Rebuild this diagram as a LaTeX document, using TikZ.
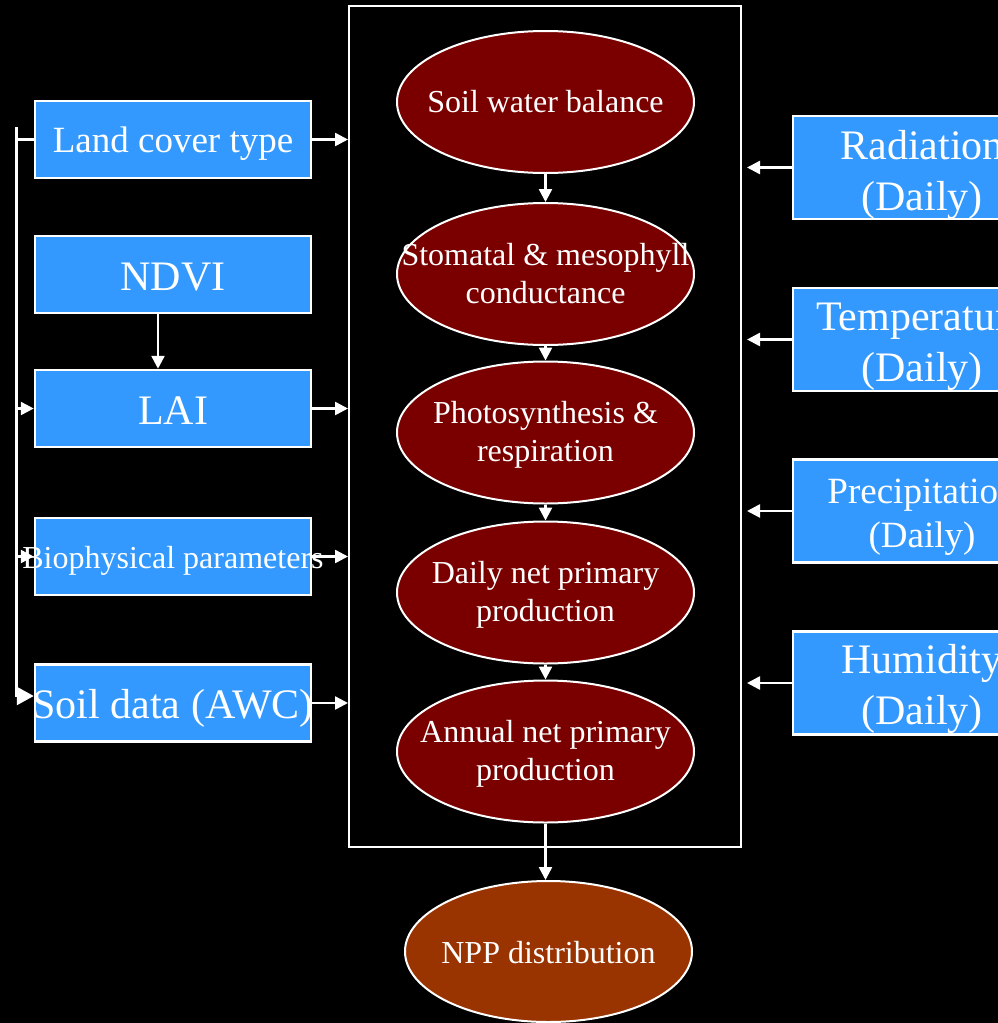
\documentclass[tikz,border=0pt]{standalone}
\usepackage{fontspec}
\setmainfont{Liberation Serif}
\usetikzlibrary{shapes.geometric,arrows.meta}

\definecolor{inblue}{RGB}{51,153,255}
\definecolor{procred}{RGB}{122,0,0}
\definecolor{outbrown}{RGB}{153,51,0}

% text of a node, first baseline #1 above the centre, may spill over the border
\newcommand{\nodetext}[2]{\makebox[0pt]{\raisebox{#1}[0pt][0pt]{\begin{tabular}[t]{@{}c@{}}#2\end{tabular}}}}

\begin{document}
\begin{tikzpicture}[x=1pt, y=-1pt,
    inbox/.style={rectangle, draw=white, line width=2.5pt, fill=inblue, text=white, inner sep=0pt, minimum width=276pt, minimum height=77pt},
    metbox/.style={rectangle, draw=white, line width=2.5pt, fill=inblue, text=white, inner sep=0pt, minimum width=258pt, minimum height=103pt},
    proc/.style={ellipse, draw=white, line width=2pt, fill=procred, text=white, inner sep=0pt, minimum width=297pt, minimum height=142pt, font=\fontsize{32}{38}\selectfont},
    bigfont/.style={font=\fontsize{42}{51}\selectfont},
    midfont/.style={font=\fontsize{37}{44}\selectfont},
    smallfont/.style={font=\fontsize{32}{38}\selectfont},
    link/.style={-{Triangle[length=13pt,width=13pt]}, draw=white, line width=2.5pt}]

    \useasboundingbox (0,0) rectangle (998,1023);
    \clip (0,0) rectangle (998,1023);
    \fill[black] (0,0) rectangle (998,1023);

    \node[draw=white, line width=2pt, inner sep=0pt, minimum width=392pt, minimum height=841pt] (frame) at (545,426.5) {};

    % inputs on the left
    \node[inbox, midfont] (land) at (173,139.5) {\nodetext{-12.5pt}{Land cover type}};
    \node[inbox, bigfont, yshift=-135pt] (ndvi) at (land) {\nodetext{-15.5pt}{NDVI}};
    \node[inbox, bigfont, yshift=-134pt] (lai) at (ndvi) {\nodetext{-15.5pt}{LAI}};
    \node[inbox, smallfont, yshift=-148pt] (bio) at (lai) {\nodetext{-11.5pt}{Biophysical parameters}};
    \node[inbox, bigfont, yshift=-146.5pt] (soil) at (bio) {\nodetext{-15pt}{Soil data (AWC)}};

    % model steps
    \node[proc] (water) at (545.5,102) {\nodetext{-10pt}{Soil water balance}};
    \node[proc, yshift=-172pt] (stoma) at (water) {\nodetext{9pt}{Stomatal \& mesophyll\\conductance}};
    \node[proc, yshift=-158.5pt] (photo) at (stoma) {\nodetext{9pt}{Photosynthesis \&\\respiration}};
    \node[proc, yshift=-160pt] (daily) at (photo) {\nodetext{9pt}{Daily net primary\\production}};
    \node[proc, yshift=-159pt] (annual) at (daily) {\nodetext{9pt}{Annual net primary\\production}};
    \node[proc, fill=outbrown, minimum width=287pt, minimum height=141pt] (npp) at (548.5,951.5) {\nodetext{-11.5pt}{NPP distribution}};

    % weather on the right
    \node[metbox, bigfont] (rad) at (922,167.5) {\nodetext{8.5pt}{Radiation\\(Daily)}};
    \node[metbox, bigfont, yshift=-172pt] (temp) at (rad) {\nodetext{9.5pt}{Temperature\\(Daily)}};
    \node[metbox, midfont, yshift=-171.5pt] (prec) at (temp) {\nodetext{8pt}{Precipitation\\(Daily)}};
    \node[metbox, bigfont, yshift=-172pt] (hum) at (prec) {\nodetext{10pt}{Humidity\\(Daily)}};

    \coordinate (bus) at (16.5,127);
    \draw[white, line width=2.5pt] (land.west) -- (land.west -| bus);
    \draw[-{Triangle[length=17pt,width=18pt]}, white, line width=2.5pt] (bus) |- ([yshift=7pt]soil.west);
    \draw[link] (lai.west -| bus) -- (lai.west);
    \draw[link] (bio.west -| bus) -- (bio.west);
    \draw[link] ([xshift=-15pt]ndvi.south) -- ([xshift=-15pt]lai.north);

    \draw[link] (land.east) -- (land.east -| frame.west);
    \draw[link] (lai.east) -- (lai.east -| frame.west);
    \draw[link] (bio.east) -- (bio.east -| frame.west);
    \draw[link] (soil.east) -- (soil.east -| frame.west);

    \draw[link, shorten >=5pt] (rad.west) -- (rad.west -| frame.east);
    \draw[link, shorten >=5pt] (temp.west) -- (temp.west -| frame.east);
    \draw[link, shorten >=5pt] (prec.west) -- (prec.west -| frame.east);
    \draw[link, shorten >=5pt] (hum.west) -- (hum.west -| frame.east);

    \draw[link] (water.south) -- (stoma.north);
    \draw[link] (stoma.south) -- (photo.north);
    \draw[link] (photo.south) -- (daily.north);
    \draw[link] (daily.south) -- (annual.north);
    \draw[link] (annual.south) -- (annual.south |- npp.north);
\end{tikzpicture}
\end{document}
